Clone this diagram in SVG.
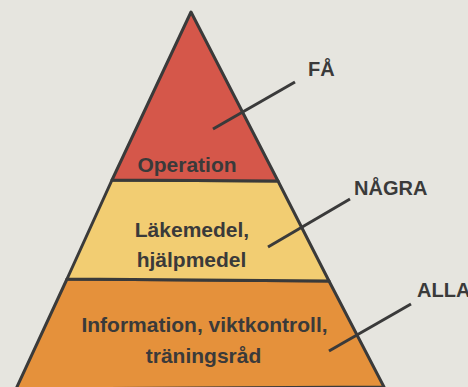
<svg xmlns="http://www.w3.org/2000/svg" width="468" height="387" viewBox="0 0 468 387">
  <style>
    .tier { stroke: #3a3a3a; stroke-width: 3; stroke-linejoin: round; }
    .lbl { font-family: "Liberation Sans", Arial, sans-serif; font-weight: bold; font-size: 21px; fill: #3a3a3a; }
    .side { font-family: "Liberation Sans", Arial, sans-serif; font-weight: bold; font-size: 20px; fill: #3a3a3a; }
    .leader { stroke: #3a3a3a; stroke-width: 3; stroke-linecap: butt; fill: none; }
  </style>
  <rect width="468" height="387" fill="#e6e5df"/>

  <!-- bottom tier -->
  <g id="tier-alla">
    <polygon class="tier" points="67,279 329,281 384,387 16,389" fill="#e5913b"/>
    <text class="lbl" x="204.5" y="331.5" text-anchor="middle">Information, viktkontroll,</text>
    <text class="lbl" x="203.5" y="363" text-anchor="middle">träningsråd</text>
  </g>

  <!-- middle tier -->
  <g id="tier-nagra">
    <polygon class="tier" points="112,180 278,181 329,281 67,279" fill="#f2cd72"/>
    <text class="lbl" x="192" y="236.5" text-anchor="middle">Läkemedel,</text>
    <text class="lbl" x="191.5" y="267" text-anchor="middle">hjälpmedel</text>
  </g>

  <!-- top tier -->
  <g id="tier-fa">
    <polygon class="tier" points="191,12 278,181 112,180" fill="#d5574a"/>
    <text class="lbl" x="187" y="172" text-anchor="middle">Operation</text>
  </g>

  <!-- leader lines -->
  <g id="connectors">
    <line class="leader" x1="213" y1="129" x2="295" y2="82"/>
    <line class="leader" x1="268" y1="247" x2="350" y2="199"/>
    <line class="leader" x1="329" y1="351" x2="411" y2="304"/>
  </g>

  <!-- side labels -->
  <g id="label-fa"><text class="side" x="308" y="75.5">FÅ</text></g>
  <g id="label-nagra"><text class="side" x="354" y="195">NÅGRA</text></g>
  <g id="label-alla"><text class="side" x="417" y="297">ALLA</text></g>
</svg>
